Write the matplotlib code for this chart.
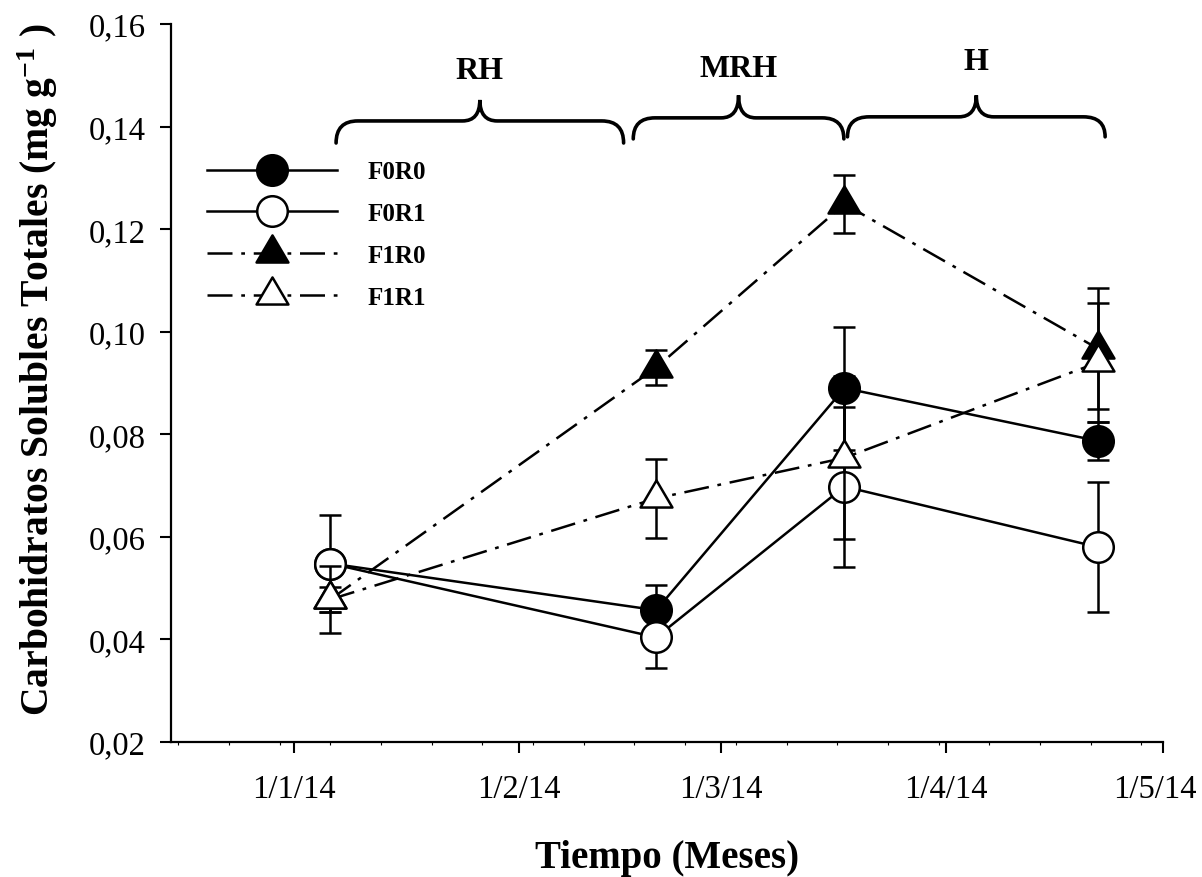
import datetime
import numpy as np
import matplotlib
matplotlib.use("Agg")
from matplotlib import pyplot as plt
import matplotlib.dates as mdates
import matplotlib.transforms as mtransforms
from matplotlib.path import Path
from matplotlib.patches import PathPatch
from matplotlib.ticker import FuncFormatter

# Fechas de muestreo
fechas = [datetime.datetime(2014, 1, 6), datetime.datetime(2014, 2, 20),
          datetime.datetime(2014, 3, 18), datetime.datetime(2014, 4, 22)]

# Carbohidratos solubles totales (mg g-1), media y error
f0r0 = [0.0548, 0.0457, 0.0890, 0.0787]
f0r0_err = [0.0010, 0.0049, 0.0120, 0.0037]
f0r1 = [0.0548, 0.0404, 0.0698, 0.0580]
f0r1_err = [0.0095, 0.0060, 0.0156, 0.0127]
f1r0 = [0.0478, 0.0930, 0.1249, 0.0967]
f1r0_err = [0.0025, 0.0034, 0.0057, 0.0118]
f1r1 = [0.0478, 0.0675, 0.0754, 0.0940]
f1r1_err = [0.0065, 0.0077, 0.0159, 0.0116]

# Periodos (llaves arriba del grafico)
periodos = ["RH", "MRH", "H"]
periodo_ini = [datetime.datetime(2014, 1, 6, 19), datetime.datetime(2014, 2, 16, 20),
               datetime.datetime(2014, 3, 18, 10)]
periodo_fin = [datetime.datetime(2014, 2, 15, 12), datetime.datetime(2014, 3, 17, 22),
               datetime.datetime(2014, 4, 23)]

plt.rcParams['font.family'] = ['Liberation Serif', 'DejaVu Serif']
plt.rcParams['mathtext.default'] = 'regular'

fig = plt.figure(figsize=(12.02, 8.78), dpi=100)
ax = fig.add_axes([0.1423, 0.1538, 0.8253, 0.8177])

# triangulo con el punto en el centroide
tri = Path([(0, 1.133), (-1, -0.567), (1, -0.567), (0, 1.133)],
           [Path.MOVETO, Path.LINETO, Path.LINETO, Path.CLOSEPOLY])
dashdot = (0, (10, 3.5, 1.5, 3.5))

series = [("F0R0", f0r0, f0r0_err, "o", "black", "-", 22),
          ("F0R1", f0r1, f0r1_err, "o", "white", "-", 22),
          ("F1R0", f1r0, f1r0_err, tri, "black", dashdot, 26),
          ("F1R1", f1r1, f1r1_err, tri, "white", dashdot, 26)]

for i, (nombre, y, e, m, fc, ls, ms) in enumerate(series):
    ax.errorbar(fechas, y, yerr=e, fmt="none", ecolor="black", elinewidth=1.8,
                capsize=8, capthick=1.8, zorder=2 + 2 * i)
    ax.plot(fechas, y, linestyle=ls, color="black", lw=1.8, marker=m,
            markersize=ms, markerfacecolor=fc, markeredgecolor="black",
            markeredgewidth=1.8, label=nombre, zorder=3 + 2 * i)

# Llaves
def llave(x0, x1, yf, ye, yt, dx, dxm):
    x0 = mdates.date2num(x0)
    x1 = mdates.date2num(x1)
    xm = (x0 + x1) / 2
    verts = [(x0, ye), (x0, yf), (x0 + dx, yf),
             (xm - dxm, yf), (xm, yf), (xm, yt),
             (xm, yf), (xm + dxm, yf),
             (x1 - dx, yf), (x1, yf), (x1, ye)]
    codes = [Path.MOVETO, Path.CURVE3, Path.CURVE3,
             Path.LINETO, Path.CURVE3, Path.CURVE3,
             Path.CURVE3, Path.CURVE3,
             Path.LINETO, Path.CURVE3, Path.CURVE3]
    ax.add_patch(PathPatch(Path(verts, codes), fill=False, lw=2.6,
                           edgecolor="black", capstyle="round", clip_on=False))
    return xm

y_flat = [0.1411, 0.1417, 0.1419]
y_end = [0.1368, 0.1376, 0.1380]
y_tip = [0.1452, 0.1461, 0.1461]
y_txt = [0.1510, 0.1514, 0.1526]
for k in range(len(periodos)):
    xm = llave(periodo_ini[k], periodo_fin[k], y_flat[k], y_end[k], y_tip[k], 3.0, 2.4)
    ax.text(xm, y_txt[k], periodos[k], ha="center", va="center",
            fontsize=23, fontweight="bold")

# Ejes
ax.set_xlim(datetime.datetime(2013, 12, 15), datetime.datetime(2014, 5, 1))
ax.set_ylim(0.02, 0.16)
ax.xaxis.set_major_locator(mdates.MonthLocator())
ax.xaxis.set_minor_locator(mdates.WeekdayLocator(byweekday=mdates.MO))
ax.xaxis.set_major_formatter(FuncFormatter(
    lambda v, pos: "{0}/{1}/{2}".format(mdates.num2date(v).day, mdates.num2date(v).month,
                                        mdates.num2date(v).year % 100)))
ax.set_yticks(np.arange(0.02, 0.161, 0.02))
ax.yaxis.set_major_formatter(FuncFormatter(lambda v, pos: ("%.2f" % v).replace(".", ",")))

for s in ["top", "right"]:
    ax.spines[s].set_visible(False)
for s in ["left", "bottom"]:
    ax.spines[s].set_linewidth(1.6)
ax.tick_params(axis="both", which="major", direction="out", length=8, width=1.5,
               labelsize=23.5)
ax.tick_params(axis="x", which="major", pad=15)
ax.tick_params(axis="y", which="major", pad=10)
ax.tick_params(axis="x", which="minor", direction="out", length=2.5, width=0.8)

ax.set_xlabel("Tiempo (Meses)", fontsize=28, fontweight="bold", labelpad=25)
ax.set_ylabel("Carbohidratos Solubles Totales (mg g$^{-1}$ )", fontsize=28.5,
              fontweight="bold")
ax.yaxis.set_label_coords(-0.112, 0.52)

leg = ax.legend(loc="upper left", bbox_to_anchor=(0.036, 0.81), frameon=False,
                borderpad=0, borderaxespad=0, handlelength=5.2, handletextpad=1.25,
                labelspacing=0.75, numpoints=1, prop={"size": 18, "weight": "bold"})

# la ultima etiqueta (1/5/14) queda un poco hacia dentro
fig.canvas.draw()
ultima = ax.get_xticklabels()[-1]
ultima.set_transform(ultima.get_transform() +
                     mtransforms.ScaledTranslation(-8 / 100, 0, fig.dpi_scale_trans))

plt.savefig("out.png", dpi=100)
